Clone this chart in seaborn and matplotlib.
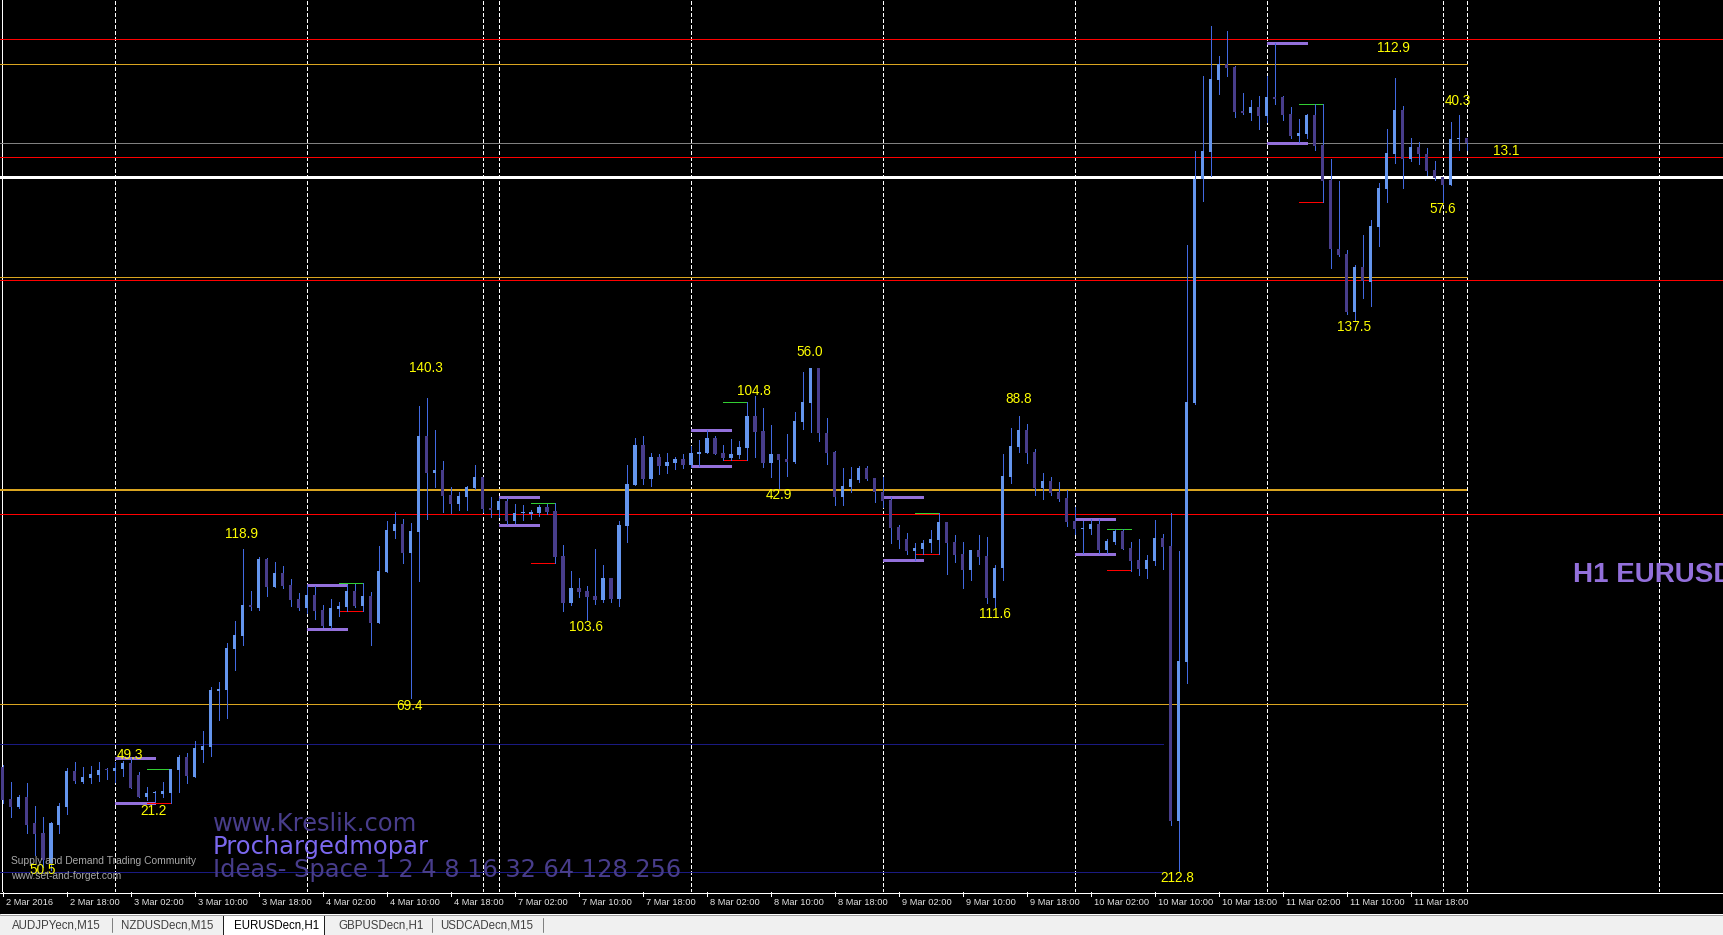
import matplotlib
matplotlib.use("Agg")
import numpy as np
import pandas as pd
import matplotlib.pyplot as plt
from matplotlib.lines import Line2D
from matplotlib.patches import Rectangle
import seaborn as sns

# ---------------- data (EURUSD H1, 2-11 Mar 2016) ----------------
bar_open = [
    1.08465, 1.08305, 1.08265, 1.08315, 1.08185, 1.08135, 1.07985, 1.08175, 1.08265, 1.08445,
    1.08390, 1.08410, 1.08425, 1.08455, 1.08445, 1.08455, 1.08485, 1.08425, 1.08315, 1.08335,
    1.08330, 1.08335, 1.08450, 1.08515, 1.08415, 1.08550, 1.08565, 1.08845, 1.08850, 1.09055,
    1.09120, 1.09275, 1.09260, 1.09505, 1.09365, 1.09435, 1.09375, 1.09305, 1.09260, 1.09325,
    1.09250, 1.09170, 1.09255, 1.09265, 1.09345, 1.09270, 1.09320, 1.09185, 1.09440, 1.09645,
    1.09680, 1.09535, 1.09640, 1.10120, 1.09935, 1.09950, 1.09825, 1.09780, 1.09815, 1.09860,
    1.09915, 1.09760, 1.09750, 1.09795, 1.09695, 1.09735, 1.09730, 1.09735, 1.09765, 1.09745,
    1.09520, 1.09285, 1.09360, 1.09345, 1.09320, 1.09300, 1.09410, 1.09305, 1.09670, 1.09875,
    1.10075, 1.09905, 1.10015, 1.09970, 1.09985, 1.10005, 1.09975, 1.10030, 1.10035, 1.10110,
    1.10035, 1.10010, 1.10025, 1.10060, 1.10220, 1.10145, 1.09985, 1.10030, 1.10005, 1.09990,
    1.10190, 1.10285, 1.10460, 1.10135, 1.10040, 1.09815, 1.09865, 1.09900, 1.09960, 1.09910,
    1.09840, 1.09800, 1.09665, 1.09605, 1.09545, 1.09555, 1.09585, 1.09600, 1.09690, 1.09590,
    1.09530, 1.09450, 1.09550, 1.09520, 1.09310, 1.09460, 1.09915, 1.10065, 1.10150, 1.10040,
    1.09860, 1.09895, 1.09840, 1.09810, 1.09695, 1.09655, 1.09655, 1.09680, 1.09550, 1.09590,
    1.09645, 1.09560, 1.09500, 1.09455, 1.09495, 1.09610, 1.09570, 1.08195, 1.08990, 1.10285,
    1.11405, 1.11540, 1.11900, 1.11980, 1.11965, 1.11745, 1.11735, 1.11765, 1.11720, 1.11815,
    1.11815, 1.11730, 1.11620, 1.11630, 1.11725, 1.11575, 1.11400, 1.11055, 1.11030, 1.10740,
    1.10965, 1.10890, 1.11165, 1.11355, 1.11530, 1.11750, 1.11505, 1.11565, 1.11530, 1.11450,
    1.11415, 1.11375, 1.11605, 1.11610,
]
bar_high = [
    1.08475, 1.08390, 1.08325, 1.08385, 1.08270, 1.08215, 1.08190, 1.08285, 1.08460, 1.08490,
    1.08465, 1.08470, 1.08490, 1.08460, 1.08490, 1.08495, 1.08510, 1.08440, 1.08365, 1.08345,
    1.08390, 1.08455, 1.08525, 1.08535, 1.08595, 1.08645, 1.08865, 1.08890, 1.09085, 1.09195,
    1.09555, 1.09345, 1.09515, 1.09510, 1.09490, 1.09470, 1.09405, 1.09335, 1.09375, 1.09370,
    1.09275, 1.09305, 1.09290, 1.09375, 1.09380, 1.09385, 1.09340, 1.09570, 1.09695, 1.09740,
    1.09705, 1.09685, 1.10270, 1.10310, 1.10150, 1.09995, 1.09865, 1.09840, 1.09870, 1.09975,
    1.09915, 1.09815, 1.09810, 1.09810, 1.09780, 1.09775, 1.09750, 1.09775, 1.09780, 1.09785,
    1.09575, 1.09445, 1.09410, 1.09370, 1.09555, 1.09475, 1.09410, 1.09695, 1.09975, 1.10110,
    1.10120, 1.10035, 1.10030, 1.10035, 1.10015, 1.10030, 1.10070, 1.10100, 1.10150, 1.10120,
    1.10075, 1.10105, 1.10095, 1.10290, 1.10320, 1.10260, 1.10175, 1.10030, 1.10130, 1.10240,
    1.10440, 1.10460, 1.10460, 1.10210, 1.10045, 1.09960, 1.09965, 1.09970, 1.09970, 1.09910,
    1.09915, 1.09815, 1.09675, 1.09635, 1.09585, 1.09600, 1.09650, 1.09735, 1.09690, 1.09625,
    1.09590, 1.09550, 1.09625, 1.09615, 1.09475, 1.10030, 1.10160, 1.10220, 1.10180, 1.10055,
    1.09935, 1.09915, 1.09890, 1.09850, 1.09765, 1.09695, 1.09705, 1.09705, 1.09605, 1.09655,
    1.09655, 1.09590, 1.09605, 1.09525, 1.09700, 1.09630, 1.09735, 1.09545, 1.11075, 1.11545,
    1.11920, 1.12170, 1.12020, 1.12145, 1.11970, 1.11835, 1.11800, 1.11820, 1.11920, 1.12085,
    1.11820, 1.11765, 1.11705, 1.11730, 1.11780, 1.11780, 1.11505, 1.11395, 1.11050, 1.10975,
    1.11125, 1.11200, 1.11385, 1.11655, 1.11910, 1.11770, 1.11610, 1.11590, 1.11560, 1.11495,
    1.11415, 1.11690, 1.11725, 1.11610,
]
bar_low = [
    1.08285, 1.08215, 1.08260, 1.08135, 1.08025, 1.07965, 1.07950, 1.08135, 1.08230, 1.08385,
    1.08385, 1.08385, 1.08395, 1.08405, 1.08390, 1.08420, 1.08360, 1.08315, 1.08300, 1.08290,
    1.08315, 1.08285, 1.08340, 1.08385, 1.08415, 1.08490, 1.08520, 1.08700, 1.08710, 1.08950,
    1.09075, 1.09250, 1.09250, 1.09320, 1.09365, 1.09360, 1.09270, 1.09250, 1.09235, 1.09205,
    1.09165, 1.09160, 1.09220, 1.09245, 1.09265, 1.09245, 1.09075, 1.09185, 1.09440, 1.09610,
    1.09485, 1.08810, 1.09395, 1.09705, 1.09865, 1.09740, 1.09735, 1.09750, 1.09750, 1.09855,
    1.09740, 1.09715, 1.09715, 1.09680, 1.09685, 1.09700, 1.09705, 1.09720, 1.09730, 1.09485,
    1.09245, 1.09275, 1.09315, 1.09200, 1.09280, 1.09290, 1.09290, 1.09270, 1.09590, 1.09875,
    1.09880, 1.09870, 1.09930, 1.09935, 1.09955, 1.09960, 1.09965, 1.09970, 1.10035, 1.10030,
    1.10000, 1.10000, 1.10010, 1.10000, 1.10015, 1.09965, 1.09915, 1.09860, 1.09920, 1.09985,
    1.10155, 1.10140, 1.10095, 1.09980, 1.09775, 1.09775, 1.09840, 1.09890, 1.09900, 1.09790,
    1.09765, 1.09585, 1.09560, 1.09530, 1.09500, 1.09530, 1.09540, 1.09530, 1.09430, 1.09490,
    1.09360, 1.09400, 1.09480, 1.09285, 1.09265, 1.09400, 1.09885, 1.10040, 1.09985, 1.09825,
    1.09805, 1.09825, 1.09795, 1.09670, 1.09630, 1.09535, 1.09630, 1.09535, 1.09535, 1.09580,
    1.09555, 1.09445, 1.09425, 1.09410, 1.09475, 1.09455, 1.08175, 1.07945, 1.08885, 1.10280,
    1.11295, 1.11420, 1.11830, 1.11920, 1.11715, 1.11730, 1.11700, 1.11655, 1.11690, 1.11780,
    1.11700, 1.11610, 1.11590, 1.11610, 1.11550, 1.11290, 1.10960, 1.11020, 1.10730, 1.10700,
    1.10810, 1.10770, 1.11070, 1.11290, 1.11485, 1.11360, 1.11495, 1.11480, 1.11425, 1.11400,
    1.11290, 1.11375, 1.11550, 1.11550,
]
bar_close = [
    1.08300, 1.08265, 1.08315, 1.08175, 1.08130, 1.08000, 1.08185, 1.08270, 1.08445, 1.08395,
    1.08415, 1.08430, 1.08450, 1.08450, 1.08460, 1.08485, 1.08360, 1.08315, 1.08335, 1.08340,
    1.08345, 1.08455, 1.08515, 1.08420, 1.08560, 1.08570, 1.08850, 1.08855, 1.09060, 1.09125,
    1.09275, 1.09265, 1.09505, 1.09365, 1.09435, 1.09370, 1.09300, 1.09260, 1.09325, 1.09245,
    1.09170, 1.09260, 1.09270, 1.09345, 1.09270, 1.09320, 1.09185, 1.09445, 1.09650, 1.09680,
    1.09535, 1.09645, 1.10120, 1.09935, 1.09950, 1.09820, 1.09780, 1.09820, 1.09865, 1.09915,
    1.09755, 1.09750, 1.09795, 1.09695, 1.09735, 1.09740, 1.09740, 1.09765, 1.09740, 1.09515,
    1.09285, 1.09360, 1.09340, 1.09315, 1.09300, 1.09410, 1.09305, 1.09675, 1.09880, 1.10075,
    1.09905, 1.10015, 1.09970, 1.09990, 1.10005, 1.09975, 1.10035, 1.10040, 1.10110, 1.10030,
    1.10010, 1.10030, 1.10065, 1.10220, 1.10140, 1.09985, 1.10030, 1.10000, 1.09990, 1.10195,
    1.10290, 1.10460, 1.10135, 1.10035, 1.09815, 1.09870, 1.09905, 1.09960, 1.09905, 1.09840,
    1.09795, 1.09660, 1.09600, 1.09545, 1.09560, 1.09585, 1.09605, 1.09690, 1.09585, 1.09525,
    1.09450, 1.09550, 1.09515, 1.09310, 1.09460, 1.09920, 1.10070, 1.10150, 1.10035, 1.09860,
    1.09895, 1.09835, 1.09805, 1.09690, 1.09655, 1.09660, 1.09680, 1.09550, 1.09595, 1.09645,
    1.09555, 1.09495, 1.09455, 1.09500, 1.09610, 1.09565, 1.08195, 1.08995, 1.10290, 1.11405,
    1.11545, 1.11905, 1.11980, 1.11960, 1.11740, 1.11735, 1.11765, 1.11720, 1.11815, 1.11805,
    1.11725, 1.11620, 1.11635, 1.11725, 1.11570, 1.11395, 1.11055, 1.11025, 1.10740, 1.10965,
    1.10895, 1.11170, 1.11360, 1.11535, 1.11750, 1.11505, 1.11565, 1.11530, 1.11445, 1.11410,
    1.11375, 1.11605, 1.11610, 1.11585,
]

time_labels = ["2 Mar 2016", "2 Mar 18:00", "3 Mar 02:00", "3 Mar 10:00", "3 Mar 18:00",
               "4 Mar 02:00", "4 Mar 10:00", "4 Mar 18:00", "7 Mar 02:00", "7 Mar 10:00",
               "7 Mar 18:00", "8 Mar 02:00", "8 Mar 10:00", "8 Mar 18:00", "9 Mar 02:00",
               "9 Mar 10:00", "9 Mar 18:00", "10 Mar 02:00", "10 Mar 10:00", "10 Mar 18:00",
               "11 Mar 02:00", "11 Mar 10:00", "11 Mar 18:00"]
separator_bars = [14, 38, 60, 62, 86, 110, 134, 158, 180, 183, 207]

red_levels = [1.12103, 1.11513, 1.10898, 1.09729]
orange_levels = [1.11978, 1.10913, 1.09852, 1.08779]
gray_level = 1.11583
white_level = 1.11413
navy_levels = [1.08579, 1.07939]

zone_start = [14, 38, 62, 86, 110, 134, 158]
zone_top = [1.08512, 1.09375, 1.09817, 1.10152, 1.09817, 1.09705, 1.12084]
zone_bottom = [1.08287, 1.09157, 1.09675, 1.09972, 1.09502, 1.09532, 1.11587]
zone_green = [1.08454, 1.09384, 1.09784, 1.10289, 1.09734, 1.09654, 1.11782]
zone_red = [1.08284, 1.09245, 1.09484, 1.09999, 1.09529, 1.09449, 1.11289]

pip_labels = ["49.3", "21.2", "50.5", "118.9", "140.3", "69.4", "103.6", "104.8", "56.0",
              "42.9", "88.8", "111.6", "212.8", "112.9", "40.3", "13.1", "57.6", "137.5"]
pip_label_bar = [15.9, 18.9, 5.0, 29.9, 52.9, 50.9, 72.9, 93.9, 100.9,
                 97.0, 126.95, 124.0, 146.8, 173.9, 181.9, 187.9, 179.95, 168.9]
pip_label_price = [1.08525, 1.08245, 1.07950, 1.09629, 1.10459, 1.08770, 1.09167, 1.10345, 1.10539,
                   1.09825, 1.10305, 1.09230, 1.07909, 1.12059, 1.11797, 1.11547, 1.11255, 1.10664]

tab_names = ["AUDJPYecn,M15", "NZDUSDecn,M15", "EURUSDecn,H1", "GBPUSDecn,H1", "USDCADecn,M15"]

# ---------------- style ----------------
sns.set_theme(style="dark", rc={"axes.facecolor": "black", "figure.facecolor": "black",
                                "axes.grid": False})
plt.rcParams['font.family'] = ['Liberation Sans', 'DejaVu Sans']
plt.rcParams['lines.scale_dashes'] = False

W, H = 1724, 935
PX = 0.72                 # one pixel in points at dpi 100
BAR_PX, BAR_X0 = 8.0, 2.7  # pixel spacing of bars
PRICE_TOP, PRICE_PER_PX = 1.1230, 0.00005
PLOT_H = 892

BULL, BEAR, WICK = "#6495ed", "#483d8b", "#4169e1"
GOLD, RED, NAVY = "#daa520", "#ff0000", "#1a1a82"

df = pd.DataFrame({"open": bar_open, "high": bar_high, "low": bar_low, "close": bar_close})
df["bar"] = np.arange(len(df))
df["bull"] = df["close"] >= df["open"]

fig = plt.figure(figsize=(W / 100, H / 100), dpi=100, facecolor="black")
ax = fig.add_axes([0, 1 - PLOT_H / H, 1, PLOT_H / H])
ax.set_facecolor("black")
xmin, xmax = -BAR_X0 / BAR_PX, (W - BAR_X0) / BAR_PX
ymin, ymax = PRICE_TOP - PLOT_H * PRICE_PER_PX, PRICE_TOP
ax.set_xlim(xmin, xmax)
ax.set_ylim(ymin, ymax)
ax.set_xticks([]); ax.set_yticks([])
for s in ax.spines.values():
    s.set_visible(False)

# separators
ax.vlines(separator_bars, ymin, ymax, colors="white", lw=PX, linestyles=(0, (2.2, 1.45)),
          zorder=1, antialiased=False)
ax.axvline(-1.0 / BAR_PX, color="white", lw=PX, zorder=1, antialiased=False)

# horizontal levels
for y in red_levels:
    ax.axhline(y, color=RED, lw=PX, zorder=2, antialiased=False)
ax.axhline(gray_level, color="#808080", lw=PX, zorder=2, antialiased=False)
ax.axhline(white_level, color="white", lw=PX * 3, zorder=2, antialiased=False)
for y, lw in zip(orange_levels, [1, 1, 2, 1]):
    ax.hlines(y, xmin, 183, colors=GOLD, lw=PX * lw, zorder=2, antialiased=False)
ax.hlines(navy_levels, xmin, 145, colors=NAVY, lw=PX, zorder=2, antialiased=False)

# zones
for s, t, b, g, r in zip(zone_start, zone_top, zone_bottom, zone_green, zone_red):
    ax.hlines([t, b], s, s + 5, colors="#9370db", lw=PX * 3, zorder=3, antialiased=False)
    ax.hlines(g, s + 4, s + 7, colors="#32cd32", lw=PX, zorder=3, antialiased=False)
    ax.hlines(r, s + 4, s + 7, colors=RED, lw=PX, zorder=3, antialiased=False)

# candles
lo = np.minimum(df["low"], np.minimum(df["open"], df["close"]))
hi = np.maximum(df["high"], np.maximum(df["open"], df["close"]))
ax.vlines(df["bar"], lo, hi, colors=WICK, lw=PX, zorder=4, antialiased=False)
body_lo = np.minimum(df["open"], df["close"])
body_h = np.maximum((df["close"] - df["open"]).abs(), PRICE_PER_PX)
ax.bar(df["bar"], body_h, bottom=body_lo, width=0.45,
       color=np.where(df["bull"], BULL, BEAR), linewidth=0, zorder=5, antialiased=False)

# pip labels
for txt, xb, yp in zip(pip_labels, pip_label_bar, pip_label_price):
    ax.text(xb, yp, txt, ha="center", va="center", color="#ffff00", fontsize=9.8, zorder=6)

def fx(x):
    return x / W

def fy(y):
    return 1 - y / H

# watermarks
fig.text(fx(213), fy(831), "www.Kreslik.com", color="#483d8b", fontsize=17.4,
         family="DejaVu Sans", va="baseline")
fig.text(fx(213), fy(854), "Prochargedmopar", color="#7b68ee", fontsize=17.4,
         family="DejaVu Sans", va="baseline")
fig.text(fx(213), fy(877), "Ideas- Space 1 2 4 8 16 32 64 128 256", color="#483d8b",
         fontsize=17.4, family="DejaVu Sans", va="baseline")
fig.text(fx(11.5), fy(861), "Supply and Demand Trading Community", color="#a9a9a9",
         fontsize=7.4, va="center")
fig.text(fx(11.5), fy(876), "www.set-and-forget.com", color="#a9a9a9", fontsize=7.4, va="center")
fig.text(fx(1572.7), fy(575), "H1 EURUSD", color="#9370db", fontsize=20, weight="bold",
         va="center")

# time axis strip
ax2 = fig.add_axes([0, 1 - 913 / H, 1, 21 / H])
ax2.set_facecolor("black")
ax2.set_xlim(xmin, xmax)
ax2.set_ylim(0, 21)
ax2.set_xticks([]); ax2.set_yticks([])
for s in ax2.spines.values():
    s.set_visible(False)
tick_bars = np.arange(len(time_labels)) * 8
ax2.vlines(tick_bars, 17, 21, colors="white", lw=PX, antialiased=False)
for b, lab in zip(tick_bars, time_labels):
    ax2.text(b + 3.5 / BAR_PX, 10.5, lab, color="#e6e6e6", fontsize=6.7, va="center", ha="left")

fig.add_artist(Line2D([0, 1], [fy(892.5), fy(892.5)], color="white", lw=PX,
                      transform=fig.transFigure))

# tab bar
fig.add_artist(Rectangle((0, 0), 1, 20 / H, transform=fig.transFigure,
                         facecolor="#f0f0f0", edgecolor="none"))
fig.add_artist(Line2D([0, 1], [fy(913.5), fy(913.5)], color="white", lw=PX,
                      transform=fig.transFigure))
fig.add_artist(Line2D([0, 1], [fy(914.5), fy(914.5)], color="#a0a0a0", lw=PX,
                      transform=fig.transFigure))
fig.add_artist(Rectangle((fx(222.6), 0), fx(324) - fx(222.6), 21 / H, transform=fig.transFigure,
                         facecolor="white", edgecolor="#202020", lw=PX))
for x in [111.6, 431.5, 543]:
    fig.add_artist(Line2D([fx(x), fx(x)], [fy(932), fy(918)], color="#808080", lw=PX,
                          transform=fig.transFigure))
for x, name in zip([12, 121, 233.6, 338, 440], tab_names):
    fig.text(fx(x), fy(925), name, color="#000000" if name == "EURUSDecn,H1" else "#404040",
             fontsize=8.3, va="center")

fig.savefig("out.png", dpi=100, facecolor="black")
